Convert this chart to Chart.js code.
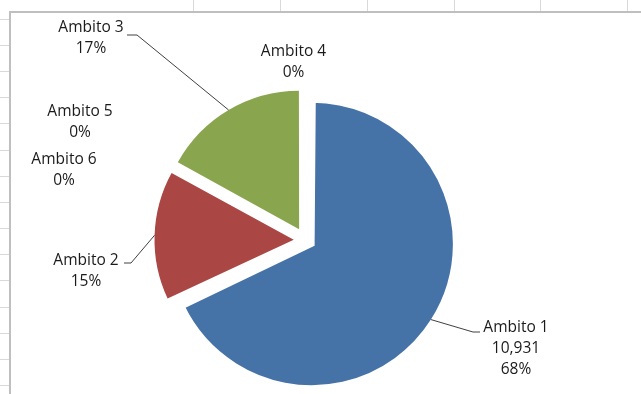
<!DOCTYPE html>
<html><head><meta charset="utf-8">
<script src="https://cdn.jsdelivr.net/npm/chart.js@4/dist/chart.umd.min.js"></script>
<style>html,body{margin:0;padding:0;background:#fff;overflow:hidden}canvas{display:block}</style>
</head><body>
<canvas id="c" width="641" height="394"></canvas>
<script>
// ---- data ----
const categories = ['Ambito 1', 'Ambito 2', 'Ambito 3', 'Ambito 4', 'Ambito 5', 'Ambito 6'];
const values = [10931, 2411, 2733, 0, 0, 0];
const valueLabelShown = [true, false, false, false, false, false];

// ---- styles / layout ----
const sliceColors = ['#4572A7', '#AA4643', '#89A54E', '#71588F', '#4198AF', '#DB843D'];
const labelLayout = [
  {x: 516, y: 332, elbow: [473, 332], end: [480, 332]},
  {x: 86, y: 265, elbow: [131, 263], end: [124, 263]},
  {x: 91, y: 32, elbow: [137, 35], end: [127, 35]},
  {x: 293.5, y: 56},
  {x: 80, y: 116},
  {x: 64, y: 164}
];

const total = values.reduce((a, b) => a + b, 0);
const pct = v => Math.round(v / total * 100) + '%';

const sheetPlugin = {
  id: 'sheet',
  beforeDraw(chart) {
    const ctx = chart.ctx;
    ctx.save();
    ctx.fillStyle = '#ffffff';
    ctx.fillRect(0, 0, chart.width, chart.height);
    ctx.strokeStyle = '#d9d9d9';
    ctx.lineWidth = 1;
    [193, 280, 367, 454, 540, 627].forEach(x => {
      ctx.beginPath(); ctx.moveTo(x + 0.5, 0); ctx.lineTo(x + 0.5, 12); ctx.stroke();
    });
    for (let y = 18.5; y < 394; y += 26.2) {
      const yy = Math.round(y) + 0.5;
      ctx.beginPath(); ctx.moveTo(0, yy); ctx.lineTo(9, yy); ctx.stroke();
    }
    ctx.strokeStyle = '#bfbfbf';
    ctx.lineWidth = 2;
    ctx.beginPath(); ctx.moveTo(10, 394); ctx.lineTo(10, 12); ctx.lineTo(641, 12); ctx.stroke();
    ctx.restore();
  }
};

const labelPlugin = {
  id: 'pieLabels',
  afterDatasetsDraw(chart) {
    const ctx = chart.ctx;
    const meta = chart.getDatasetMeta(0);
    ctx.save();
    ctx.font = '15.5px "Open Sans"';
    ctx.fillStyle = '#1a1a1a';
    ctx.textAlign = 'center';
    ctx.textBaseline = 'alphabetic';
    categories.forEach((name, i) => {
      const L = labelLayout[i];
      const lines = [name];
      if (valueLabelShown[i]) lines.push(values[i].toLocaleString('en-US'));
      lines.push(pct(values[i]));
      lines.forEach((t, k) => ctx.fillText(t, L.x, L.y + k * 21));
      if (L.elbow && values[i] > 0) {
        const arc = meta.data[i];
        const o = arc.options;
        const mid = (arc.startAngle + arc.endAngle) / 2;
        const off = (o.offset || 0) / 4;
        const fix = 1 - Math.sin(Math.min(Math.PI, arc.circumference));
        const r = arc.outerRadius + off * fix - (o.borderWidth || 0) / 2;
        const px = arc.x + Math.cos(mid) * (off + r);
        const py = arc.y + Math.sin(mid) * (off + r);
        ctx.strokeStyle = '#404040';
        ctx.lineWidth = 1;
        ctx.beginPath();
        ctx.moveTo(px, py);
        ctx.lineTo(L.elbow[0], L.elbow[1]);
        ctx.lineTo(L.end[0], L.end[1]);
        ctx.stroke();
      }
    });
    ctx.restore();
  }
};

new Chart(document.getElementById('c'), {
  type: 'pie',
  data: {
    labels: categories,
    datasets: [{
      data: values,
      backgroundColor: sliceColors,
      borderColor: '#ffffff',
      borderWidth: [6, 0, 0, 0, 0, 0],
      borderAlign: 'center',
      borderJoinStyle: 'miter',
      offset: [29, 47, 50, 0, 0, 0],
      hoverOffset: 0,
      radius: 137,
      clip: false
    }]
  },
  options: {
    responsive: false,
    devicePixelRatio: 1,
    animation: false,
    events: [],
    radius: 137,
    layout: {padding: {left: 0, right: 30, top: 86, bottom: 0}},
    plugins: {legend: {display: false}, tooltip: {enabled: false}, title: {display: false}}
  },
  plugins: [sheetPlugin, labelPlugin]
});
</script>
</body></html>
